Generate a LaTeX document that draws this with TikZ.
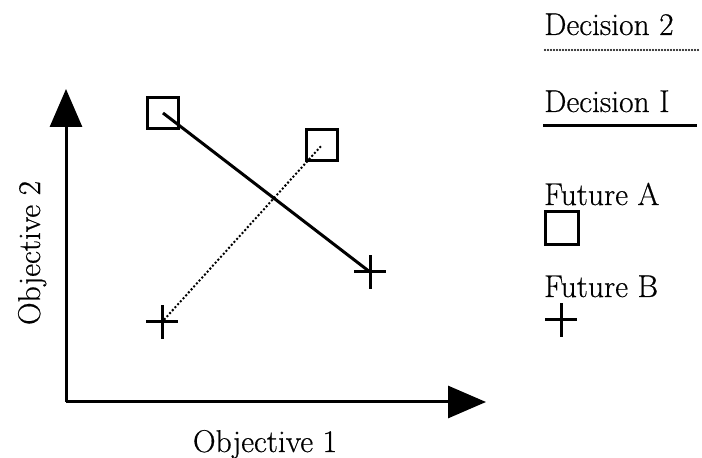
\documentclass[tikz,border=0pt]{standalone}
\usepackage{fontspec}
\setmainfont{Latin Modern Roman}[FakeBold=0.5]
\usetikzlibrary{arrows.meta}
\begin{document}
\begin{tikzpicture}[x=1pt,y=1pt,
  lbl/.style={font=\fontsize{31.5}{36}\selectfont, inner sep=0pt},
  sq/.style={draw, line width=2.8pt, minimum size=31pt, inner sep=0pt},
  axis/.style={line width=3pt, -{Triangle[length=38pt,width=32pt]}},
  dec1/.style={line width=3pt},
  dec2/.style={line width=2.8pt, dash pattern=on 0pt off 4pt, line cap=round},
  pluslw/.style={line width=3pt}]
\useasboundingbox (0,0) rectangle (702,458);
% axes
\coordinate (O) at (66,56);
\coordinate (ytip) at (66,369);
\coordinate (xtip) at (486,56);
\draw[axis] (O) -- (ytip);
\draw[axis] (O) -- (xtip);
\node[lbl, rotate=90, anchor=base] (ylab) at (40,205) {Objective 2};
\node[lbl, anchor=base] (xlab) at (265,6) {Objective 1};
% data
\node[sq] (sA1) at (163,345) {};
\node[sq] (sA2) at (322,313) {};
\coordinate (pB1) at (370,186);
\coordinate (pB2) at (162,136);
\foreach \p in {pB1,pB2}
  \draw[pluslw] (\p) ++(-16,0) -- ++(32,0) (\p) ++(0,-17) -- ++(0,34);
\draw[dec1] (sA1.center) -- (pB1);
\draw[dec2] (pB2) -- (sA2.center);
% legend
\node[lbl, anchor=base west] (l2) at (544,423) {Decision 2};
\coordinate (l2a) at (545,408);
\coordinate (l2b) at (700,408);
\draw[line width=2.4pt, dash pattern=on 0pt off 3pt, line cap=round] (l2a) -- (l2b);
\node[lbl, anchor=base west] (l1) at (544,346) {Decision I};
\coordinate (l1a) at (543,332);
\coordinate (l1b) at (697,332);
\draw[dec1] (l1a) -- (l1b);
\node[lbl, anchor=base west] (lfa) at (544,253) {Future A};
\node[sq, minimum size=33pt] (lsq) at (562,230) {};
\node[lbl, anchor=base west] (lfb) at (544,161) {Future B};
\coordinate (lpl) at (561,138);
\draw[pluslw] (lpl) ++(-16,0) -- ++(32,0) (lpl) ++(0,-17) -- ++(0,34);
\end{tikzpicture}
\end{document}
